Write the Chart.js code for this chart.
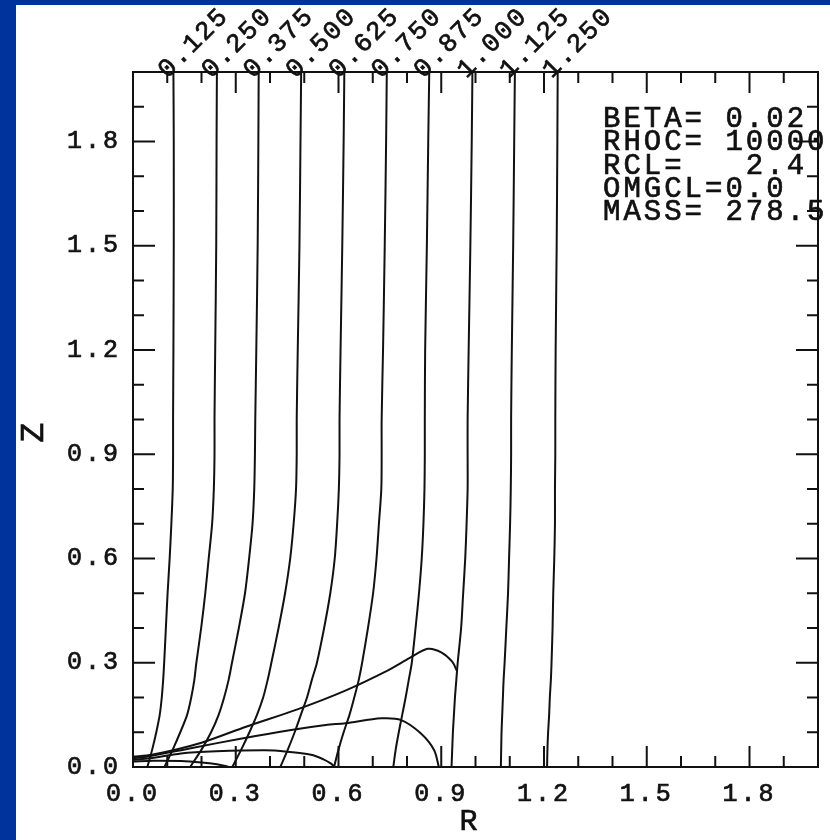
<!DOCTYPE html>
<html>
<head>
<meta charset="utf-8">
<title>R-Z contours</title>
<script src="https://cdn.jsdelivr.net/npm/chart.js"></script>
<style>
  html, body { margin: 0; padding: 0; background: #00339c; }
  #wrap { width: 830px; height: 840px; }
</style>
</head>
<body>
<div id="wrap"><canvas id="grafico" width="830" height="840"></canvas></div>
<script>
// niveis de Z onde cada contorno foi lido
const zLevels = [2.0, 1.8, 1.5, 1.2, 1.0, 0.9, 0.8, 0.7, 0.6, 0.5, 0.4, 0.3, 0.25, 0.2, 0.15, 0.1, 0.05, 0.0];

// valor de R de cada contorno em cada nivel de Z
const rLine0125 = [0.118, 0.119, 0.119, 0.118, 0.117, 0.117, 0.116, 0.112, 0.107, 0.101, 0.096, 0.091, 0.088, 0.084, 0.078, 0.068, 0.056, 0.042];
const rLine0250 = [0.245, 0.244, 0.243, 0.240, 0.238, 0.238, 0.236, 0.231, 0.221, 0.211, 0.199, 0.185, 0.179, 0.170, 0.158, 0.138, 0.116, 0.092];
const rLine0375 = [0.367, 0.366, 0.364, 0.360, 0.357, 0.356, 0.354, 0.349, 0.339, 0.327, 0.309, 0.289, 0.279, 0.266, 0.250, 0.228, 0.200, 0.167];
const rLine0500 = [0.491, 0.489, 0.486, 0.481, 0.478, 0.478, 0.476, 0.469, 0.459, 0.444, 0.425, 0.404, 0.393, 0.380, 0.362, 0.340, 0.316, 0.290];
const rLine0625 = [0.617, 0.615, 0.611, 0.606, 0.603, 0.603, 0.601, 0.596, 0.589, 0.576, 0.558, 0.537, 0.522, 0.508, 0.490, 0.472, 0.452, 0.430];
const rLine0750 = [0.741, 0.739, 0.735, 0.730, 0.726, 0.726, 0.725, 0.718, 0.711, 0.701, 0.686, 0.669, 0.659, 0.646, 0.632, 0.615, 0.600, 0.587];
const rLine0875 = [0.865, 0.862, 0.858, 0.853, 0.852, 0.852, 0.851, 0.848, 0.843, 0.835, 0.825, 0.814, 0.805, 0.796, 0.786, 0.776, 0.767, 0.760];
const rLine1000 = [0.991, 0.989, 0.985, 0.980, 0.977, 0.977, 0.977, 0.974, 0.970, 0.964, 0.958, 0.948, 0.944, 0.940, 0.937, 0.934, 0.932, 0.930];
const rLine1125 = [1.115, 1.113, 1.110, 1.106, 1.104, 1.104, 1.103, 1.101, 1.098, 1.095, 1.090, 1.085, 1.082, 1.080, 1.078, 1.076, 1.075, 1.074];
const rLine1250 = [1.240, 1.239, 1.237, 1.234, 1.233, 1.233, 1.232, 1.232, 1.230, 1.227, 1.225, 1.222, 1.220, 1.217, 1.215, 1.212, 1.210, 1.209];

const contourLabels = ['0.125', '0.250', '0.375', '0.500', '0.625', '0.750', '0.875', '1.000', '1.125', '1.250'];
const contourR = [rLine0125, rLine0250, rLine0375, rLine0500, rLine0625, rLine0750, rLine0875, rLine1000, rLine1125, rLine1250];

// curvas em forma de cupula perto do plano Z = 0
const domeBigR = [0.000, 0.055, 0.200, 0.330, 0.480, 0.620, 0.746, 0.807, 0.860, 0.900, 0.932, 0.946];
const domeBigZ = [0.030, 0.035, 0.070, 0.116, 0.166, 0.220, 0.279, 0.313, 0.340, 0.330, 0.303, 0.276];
const domeMidR = [0.000, 0.044, 0.169, 0.322, 0.457, 0.563, 0.620, 0.725, 0.783, 0.840, 0.879, 0.893];
const domeMidZ = [0.025, 0.030, 0.054, 0.083, 0.106, 0.121, 0.126, 0.140, 0.135, 0.097, 0.049, 0.000];
const domeSmallR = [0.000, 0.050, 0.140, 0.243, 0.385, 0.450, 0.520, 0.556, 0.576, 0.590];
const domeSmallZ = [0.020, 0.025, 0.039, 0.045, 0.048, 0.044, 0.035, 0.022, 0.011, 0.000];
const domeTinyR = [0.000, 0.060, 0.140, 0.200, 0.245, 0.270, 0.280];
const domeTinyZ = [0.016, 0.018, 0.017, 0.013, 0.008, 0.003, 0.000];

// parametros do modelo escritos no canto
const infoLines = ['BETA= 0.02', 'RHOC= 10000', 'RCL=   2.4', 'OMGCL=0.0', 'MASS= 278.5'];

const fonte = "'Liberation Mono', 'DejaVu Sans Mono', monospace";
const corTraco = '#111';

function montaPontos(rs, zs) {
  let pts = [];
  for (let n = 0; n < rs.length; n++) {
    pts.push({ x: rs[n], y: zs[n] });
  }
  return pts;
}

function linha(pts) {
  return {
    data: pts,
    showLine: true,
    borderColor: corTraco,
    borderWidth: 2,
    pointRadius: 0,
    tension: 0.3,
    fill: false,
  };
}

let datasets = [];
for (let i = 0; i < contourR.length; i++) {
  datasets.push(linha(montaPontos(contourR[i], zLevels)));
}
datasets.push(linha(montaPontos(domeBigR, domeBigZ)));
datasets.push(linha(montaPontos(domeMidR, domeMidZ)));
datasets.push(linha(montaPontos(domeSmallR, domeSmallZ)));
datasets.push(linha(montaPontos(domeTinyR, domeTinyZ)));

function ehMaior(v) {
  return Math.round(v * 10) % 3 === 0;
}

// texto com um contorno fino, p/ ficar com o traco mais grosso
function escreve(ctx, txt, x, y) {
  ctx.fillText(txt, x, y);
  ctx.strokeText(txt, x, y);
}

// fundo azul + folha branca, e espacamento das letras dos rotulos
const fundo = {
  id: 'fundo',
  beforeDraw(chart) {
    const ctx = chart.ctx;
    ctx.save();
    ctx.fillStyle = '#00339c';
    ctx.fillRect(0, 0, chart.width, chart.height);
    ctx.fillStyle = '#ffffff';
    ctx.fillRect(16, 5, chart.width - 16, chart.height - 5);
    ctx.restore();
    ctx.letterSpacing = '3px';
  },
};

// moldura, tracos das escalas nos quatro lados e textos extras
const moldura = {
  id: 'moldura',
  afterDraw(chart) {
    const ctx = chart.ctx;
    const a = chart.chartArea;
    const sx = chart.scales.x;
    const sy = chart.scales.y;
    ctx.save();
    ctx.letterSpacing = '0px';
    ctx.strokeStyle = corTraco;
    ctx.lineWidth = 2;
    ctx.strokeRect(a.left, a.top, a.right - a.left, a.bottom - a.top);

    ctx.beginPath();
    sx.ticks.forEach(function (t) {
      if (t.value <= 0.001 || t.value >= 1.999) return;
      const px = sx.getPixelForValue(t.value);
      const len = ehMaior(t.value) ? 21 : 11;
      ctx.moveTo(px, a.bottom);
      ctx.lineTo(px, a.bottom - len);
      ctx.moveTo(px, a.top);
      ctx.lineTo(px, a.top + len);
    });
    sy.ticks.forEach(function (t) {
      if (t.value <= 0.001 || t.value >= 1.999) return;
      const py = sy.getPixelForValue(t.value);
      const len = ehMaior(t.value) ? 22 : 11;
      ctx.moveTo(a.left, py);
      ctx.lineTo(a.left + len, py);
      ctx.moveTo(a.right, py);
      ctx.lineTo(a.right - len, py);
    });
    ctx.stroke();

    ctx.fillStyle = corTraco;
    ctx.lineWidth = 0.7;

    // rotulos inclinados no topo de cada contorno
    ctx.font = '26px ' + fonte;
    ctx.letterSpacing = '2px';
    ctx.textAlign = 'left';
    ctx.textBaseline = 'alphabetic';
    for (let i = 0; i < contourLabels.length; i++) {
      const px = sx.getPixelForValue(contourR[i][0]) - 6;
      const py = a.top + 7;
      ctx.save();
      ctx.translate(px, py);
      ctx.rotate(-Math.PI / 4);
      escreve(ctx, contourLabels[i], 0, 0);
      ctx.restore();
    }

    // bloco de parametros
    ctx.font = '29px ' + fonte;
    ctx.letterSpacing = '3px';
    for (let i = 0; i < infoLines.length; i++) {
      escreve(ctx, infoLines[i], a.right - 215, a.top + 55 + i * 23.3);
    }

    // titulos dos eixos
    ctx.letterSpacing = '0px';
    ctx.font = '30px ' + fonte;
    ctx.textAlign = 'center';
    escreve(ctx, 'R', (a.left + a.right) / 2 - 7, a.bottom + 63);
    ctx.save();
    ctx.translate(34, (a.top + a.bottom) / 2 + 13);
    ctx.rotate(-Math.PI / 2);
    ctx.textBaseline = 'middle';
    ctx.font = '33px ' + fonte;
    escreve(ctx, 'Z', 0, 0);
    ctx.restore();
    ctx.restore();
  },
};

function rotulo(v) {
  return ehMaior(v) ? v.toFixed(1) : '';
}

const ctx = document.getElementById('grafico').getContext('2d');
const grafico = new Chart(ctx, {
  type: 'scatter',
  data: { datasets: datasets },
  options: {
    responsive: false,
    animation: false,
    events: [],
    layout: { padding: { left: 0, top: 72, right: 2, bottom: 0 } },
    plugins: {
      legend: { display: false },
      tooltip: { enabled: false },
    },
    scales: {
      x: {
        type: 'linear',
        min: 0,
        max: 2.0,
        grid: { display: false, drawTicks: false },
        border: { display: false },
        ticks: {
          stepSize: 0.1,
          autoSkip: false,
          maxRotation: 0,
          padding: 12,
          color: corTraco,
          textStrokeColor: corTraco,
          textStrokeWidth: 0.7,
          font: { family: fonte, size: 25 },
          callback: rotulo,
        },
        afterFit: function (scale) { scale.height = 73; },
      },
      y: {
        type: 'linear',
        min: 0,
        max: 2.0,
        grid: { display: false, drawTicks: false },
        border: { display: false },
        ticks: {
          stepSize: 0.1,
          autoSkip: false,
          padding: 12,
          color: corTraco,
          textStrokeColor: corTraco,
          textStrokeWidth: 0.7,
          font: { family: fonte, size: 25 },
          callback: rotulo,
        },
        afterFit: function (scale) { scale.width = 133; },
      },
    },
  },
  plugins: [fundo, moldura],
});
</script>
</body>
</html>
